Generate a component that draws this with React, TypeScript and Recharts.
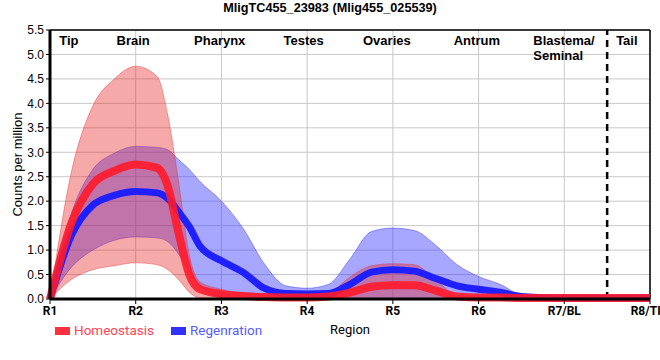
import React from "react";
import {
  ComposedChart,
  Area,
  Line,
  XAxis,
  YAxis,
  CartesianGrid,
  ReferenceLine,
  ReferenceDot,
} from "recharts";

const title = "MligTC455_23983 (Mlig455_025539)";

// region position along the worm (1 = R1 ... 8 = R8/TI)
const positions = [
  1, 1.25, 1.5, 1.75, 2, 2.25, 2.375, 2.5, 2.625, 2.75, 3, 3.25, 3.5, 3.75, 4,
  4.25, 4.5, 4.75, 5, 5.25, 5.5, 5.75, 6, 6.25, 6.5, 6.75, 7, 7.25, 7.5, 7.75, 8,
];

const homeoMean = [
  0, 1.55, 2.35, 2.62, 2.75, 2.68, 2.3, 1.35, 0.5, 0.2, 0.1, 0.06, 0.04, 0.03,
  0.03, 0.05, 0.13, 0.25, 0.28, 0.28, 0.17, 0.05, 0.03, 0.03, 0.02, 0.02, 0.02,
  0.02, 0.02, 0.02, 0.02,
];
const homeoHigh = [
  0, 2.6, 3.95, 4.5, 4.76, 4.55, 3.75, 2.4, 0.9, 0.35, 0.2, 0.12, 0.08, 0.06,
  0.06, 0.12, 0.45, 0.68, 0.72, 0.7, 0.4, 0.06, 0.04, 0.04, 0.04, 0.04, 0.04,
  0.04, 0.04, 0.04, 0.04,
];
const homeoLow = [
  0, 0.4, 0.6, 0.68, 0.74, 0.7, 0.6, 0.4, 0.14, 0.02, 0, 0, 0, 0, 0, 0, 0, 0, 0,
  0, 0, 0, 0, 0, 0, 0, 0, 0, 0, 0, 0,
];

const regenMean = [
  0, 1.3, 1.92, 2.12, 2.2, 2.17, 2.05, 1.78, 1.48, 1.08, 0.78, 0.55, 0.22, 0.11,
  0.1, 0.11, 0.3, 0.55, 0.6, 0.57, 0.42, 0.27, 0.2, 0.14, 0.05, 0.03, 0.02, 0.02,
  0.02, 0.02, 0.02,
];
const regenHigh = [
  0, 1.75, 2.65, 2.98, 3.12, 3.1, 3.05, 2.85, 2.65, 2.4, 2.0, 1.45, 0.72, 0.27,
  0.22, 0.3, 0.82, 1.38, 1.45, 1.4, 1.1, 0.7, 0.46, 0.3, 0.08, 0.03, 0.02, 0.02,
  0.02, 0.02, 0.02,
];
const regenLow = [
  0, 0.65, 1.0, 1.2, 1.27, 1.25, 1.17, 0.92, 0.55, 0.28, 0.03, 0, 0, 0, 0, 0, 0,
  0, 0, 0, 0, 0, 0, 0, 0, 0, 0, 0, 0, 0, 0,
];

const regionTicks = ["R1", "R2", "R3", "R4", "R5", "R6", "R7/BL", "R8/TI"];
const yTicks = [0, 0.5, 1, 1.5, 2, 2.5, 3, 3.5, 4, 4.5, 5, 5.5];

const tissueNames = ["Tip", "Brain", "Pharynx", "Testes", "Ovaries", "Antrum", "Blastema/\nSeminal", "Tail"];
const tissueAt = [1.22, 1.97, 2.98, 3.96, 4.93, 5.98, 7.0, 7.73];

const data = positions.map((x, i) => ({
  x,
  hm: homeoMean[i],
  hr: [homeoLow[i], homeoHigh[i]],
  rm: regenMean[i],
  rr: [regenLow[i], regenHigh[i]],
}));

const TissueLabel = ({ viewBox, value }: any) => {
  const lines = String(value).split("\n");
  const x = viewBox.x;
  const wide = lines.length > 1;
  return (
    <text
      x={wide ? x - 31 : x}
      y={viewBox.y + 15}
      textAnchor={wide ? "start" : "middle"}
      style={{ fontFamily: "Arial, 'Liberation Sans'", fontSize: 13, fontWeight: "bold" }}
      fill="#000"
    >
      {lines.map((l, i) => (
        <tspan key={i} x={wide ? x - 31 : x} dy={i === 0 ? 0 : 15}>
          {l}
        </tspan>
      ))}
    </text>
  );
};

const YLabel = ({ viewBox }: any) => {
  const cx = viewBox.x + 17;
  const cy = viewBox.y + viewBox.height / 2;
  return (
    <text
      x={cx}
      y={cy}
      transform={`rotate(-90, ${cx}, ${cy})`}
      textAnchor="middle"
      dominantBaseline="central"
      style={{ fontFamily: "Arial, 'Liberation Sans'", fontSize: 13 }}
      fill="#000"
    >
      Counts per million
    </text>
  );
};

const XLabel = ({ viewBox }: any) => (
  <text
    x={viewBox.x + viewBox.width / 2}
    y={viewBox.y + 35}
    textAnchor="middle"
    style={{ fontFamily: "Roboto, Arial", fontSize: 13 }}
    fill="#000"
  >
    Region
  </text>
);

export default function App() {
  return (
    <div style={{ position: "absolute", left: 0, top: 0, width: 660, height: 360, background: "#fff" }}>
      <div
        style={{
          position: "absolute",
          top: 1,
          width: 660,
          textAlign: "center",
          fontFamily: "Arial, 'Liberation Sans'",
          fontSize: 12.7,
          fontWeight: "bold",
          lineHeight: "14px",
        }}
      >
        {title}
      </div>

      <ComposedChart
        width={660}
        height={360}
        data={data}
        margin={{ top: 30, right: 10, bottom: 16, left: 0 }}
      >
        <CartesianGrid stroke="#c8c8c8" strokeWidth={1} />
        <XAxis
          dataKey="x"
          type="number"
          domain={[1, 8]}
          ticks={[1, 2, 3, 4, 5, 6, 7, 8]}
          tickFormatter={(v) => regionTicks[v - 1]}
          height={45}
          axisLine={{ stroke: "#000", strokeWidth: 3 }}
          tickLine={{ stroke: "#000" }}
          tickSize={5}
          tick={{ fill: "#000", fontSize: 12, fontFamily: "Roboto, Arial", fontWeight: "bold" }}
          label={<XLabel />}
        />
        <YAxis
          domain={[0, 5.5]}
          ticks={yTicks}
          tickFormatter={(v) => v.toFixed(1)}
          width={50}
          axisLine={{ stroke: "#000", strokeWidth: 3 }}
          tickLine={{ stroke: "#000" }}
          tickSize={4}
          tick={{ fill: "#000", fontSize: 12, fontFamily: "Arial, 'Liberation Sans'" }}
          label={<YLabel />}
        />

        {/* plot frame + tail boundary */}
        <ReferenceLine y={5.5} stroke="#000" strokeWidth={1.5} />
        <ReferenceLine x={8} stroke="#000" strokeWidth={1.5} />
        <ReferenceLine x={7.5} stroke="#000" strokeWidth={2.5} strokeDasharray="7 5" />

        {/* Regeneration */}
        <Area
          type="monotone"
          dataKey="rr"
          fill="#3333ff"
          fillOpacity={0.43}
          stroke="#3333ff"
          strokeOpacity={0.45}
          strokeWidth={1}
          isAnimationActive={false}
          activeDot={false}
        />
        <Line
          type="monotone"
          dataKey="rm"
          stroke="#2020ff"
          strokeWidth={7}
          dot={false}
          activeDot={false}
          isAnimationActive={false}
        />

        {/* Homeostasis */}
        <Area
          type="monotone"
          dataKey="hr"
          fill="#e62828"
          fillOpacity={0.4}
          stroke="#e62828"
          strokeOpacity={0.4}
          strokeWidth={1}
          isAnimationActive={false}
          activeDot={false}
        />
        <Line
          type="monotone"
          dataKey="hm"
          stroke="#ff1a2a"
          strokeOpacity={0.9}
          strokeWidth={8}
          dot={false}
          activeDot={false}
          isAnimationActive={false}
        />

        {tissueNames.map((name, i) => (
          <ReferenceDot
            key={name}
            x={tissueAt[i]}
            y={5.5}
            r={0}
            stroke="none"
            fill="none"
            label={<TissueLabel value={name} />}
          />
        ))}
      </ComposedChart>

      {/* legend */}
      <div
        style={{
          position: "absolute",
          top: 323,
          left: 55,
          display: "flex",
          alignItems: "center",
          fontFamily: "Roboto, Arial",
          fontSize: 13.5,
          lineHeight: "15px",
        }}
      >
        <span style={{ width: 15, height: 8, background: "#ff3040", marginRight: 4 }} />
        <span style={{ color: "#ff4555", marginRight: 17 }}>Homeostasis</span>
        <span style={{ width: 15, height: 8, background: "#3030ff", marginRight: 4 }} />
        <span style={{ color: "#5a5aff" }}>Regenration</span>
      </div>
    </div>
  );
}
